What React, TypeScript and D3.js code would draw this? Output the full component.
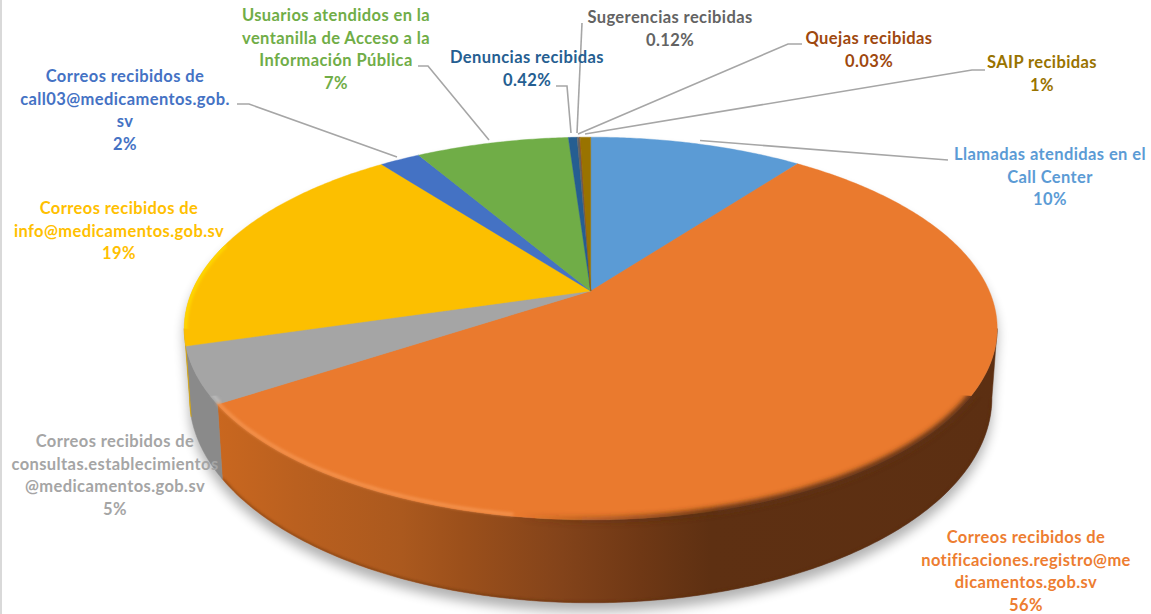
import React from "react";
import * as d3 from "d3";

const categories = [
  "Llamadas atendidas en el Call Center",
  "Correos recibidos de notificaciones.registro@medicamentos.gob.sv",
  "Correos recibidos de consultas.establecimientos@medicamentos.gob.sv",
  "Correos recibidos de info@medicamentos.gob.sv",
  "Correos recibidos de call03@medicamentos.gob.sv",
  "Usuarios atendidos en la ventanilla de Acceso a la Información Pública",
  "Denuncias recibidas",
  "Sugerencias recibidas",
  "Quejas recibidas",
  "SAIP recibidas",
];
const values = [10.25, 55.5, 4.7, 19.2, 1.95, 7.35, 0.42, 0.12, 0.03, 0.5];
const colors = ["#5b9bd5", "#ea7a2e", "#a5a5a5", "#fcbf00", "#4472c4", "#70ad47", "#255e91", "#636363", "#9e480e", "#997300"];
const textColors = ["#5b9bd5", "#ed7d31", "#a5a5a5", "#ffc000", "#4472c4", "#70ad47", "#255e91", "#636363", "#9e480e", "#997300"];
const wallColors = ["#3d6a91", "url(#orangeWall)", "#8a8a8a", "#d9a500", "#2f4f87", "#4c7630", "#193f62", "#434343", "#6b300a", "#684e00"];

const labelLines: string[][] = [
  ["Llamadas atendidas en el", "Call Center", "10%"],
  ["Correos recibidos de", "notificaciones.registro@me", "dicamentos.gob.sv", "56%"],
  ["Correos recibidos de", "consultas.establecimientos", "@medicamentos.gob.sv", "5%"],
  ["Correos recibidos de", "info@medicamentos.gob.sv", "19%"],
  ["Correos recibidos de", "call03@medicamentos.gob.", "sv", "2%"],
  ["Usuarios atendidos en la", "ventanilla de Acceso a la", "Información Pública", "7%"],
  ["Denuncias recibidas", "0.42%"],
  ["Sugerencias recibidas", "0.12%"],
  ["Quejas recibidas", "0.03%"],
  ["SAIP recibidas", "1%"],
];
const labelCenterX = [1050, 1026, 115, 119, 125, 336, 527, 670, 869, 1042];
const labelFirstY = [154, 537, 441, 208, 76, 15, 57, 17, 38, 62];
const leaderPoints: [number, number][][] = [
  [[700, 140.5], [935, 159], [948, 160]],
  [],
  [],
  [],
  [[397, 157], [249, 104], [237, 104]],
  [[489, 140], [428, 66], [418, 66]],
  [[571, 133], [567, 86], [556, 86]],
  [[577, 133], [582, 23]],
  [[578, 134], [788, 44], [802, 44]],
  [[585, 134], [972, 70], [985, 70]],
];

// perspective disc: apex of the pie, axis scales, perspective strength, wall depth
const CX = 590.7, CY = 291, A = 398.6, B = 184, P = 0.196, D = 66.7, TAPER = 0.987;
const LEFT_EXTREME = (258.7 * Math.PI) / 180;
const RIGHT_EXTREME = (101.3 * Math.PI) / 180;
const LINE_H = 22.6;

type Pt = [number, number];
const rimPt = (a: number): Pt => {
  const u = Math.sin(a), v = Math.cos(a), w = 1 + P * v;
  return [CX + (A * u) / w, CY - (B * v) / w];
};
const lowPt = (a: number): Pt => {
  const w = 1 + P * Math.cos(a);
  const [x, y] = rimPt(a);
  return [CX + (x - CX) * TAPER, y + D / w];
};
const samples = (a0: number, a1: number) => {
  const n = Math.max(2, Math.ceil(Math.abs(a1 - a0) / 0.01));
  return d3.range(n + 1).map((i) => a0 + ((a1 - a0) * i) / n);
};
const line = d3.line<Pt>();
const closed = (pts: Pt[]) => line(pts) + "Z";

const arcs = d3.pie<number>().sort(null)(values);
const wallRange = (s: number, e: number): [number, number] | null => {
  const a0 = Math.max(s, RIGHT_EXTREME), a1 = Math.min(e, LEFT_EXTREME);
  return a1 > a0 ? [a0, a1] : null;
};
const frontAngles = samples(RIGHT_EXTREME, LEFT_EXTREME);
const shadowPath = closed([
  ...frontAngles.map(lowPt),
  ...samples(LEFT_EXTREME, Math.PI * 2 + RIGHT_EXTREME).map(rimPt),
]);
const discAndWall = closed([
  ...samples(LEFT_EXTREME, Math.PI * 2 + RIGHT_EXTREME).map(rimPt),
  ...[...frontAngles].reverse().map(lowPt),
]);

export default function App() {
  const orange = arcs[1];
  const gray = arcs[2];
  const yellow = arcs[3];
  const rimLeft = samples(Math.PI * 1.05, orange.endAngle).map(rimPt);
  const rimRight = samples(RIGHT_EXTREME - 0.1, Math.PI * 1.1).map(rimPt);
  const grayRim = samples(gray.startAngle, gray.endAngle).map(rimPt);
  const yellowRim = samples(yellow.startAngle, yellow.startAngle + 0.55).map(rimPt);
  const lowRing = samples(RIGHT_EXTREME, orange.endAngle).map(lowPt);
  return (
    <svg width={1151} height={614} style={{ position: "absolute", left: 0, top: 0, background: "#fff", fontFamily: "Lato, sans-serif" }}>
      <defs>
        <linearGradient id="orangeWall" gradientUnits="userSpaceOnUse" x1={218} x2={1000} y1={0} y2={0}>
          <stop offset="0" stopColor="#c9671f" />
          <stop offset="0.1" stopColor="#ba601f" />
          <stop offset="0.235" stopColor="#ab591e" />
          <stop offset="0.31" stopColor="#9c501b" />
          <stop offset="0.44" stopColor="#83431a" />
          <stop offset="0.54" stopColor="#6f3815" />
          <stop offset="0.63" stopColor="#5e3012" />
          <stop offset="1" stopColor="#5c2f12" />
        </linearGradient>
        <linearGradient id="bevelLeft" gradientUnits="userSpaceOnUse" x1={218} x2={640} y1={0} y2={0}>
          <stop offset="0" stopColor="#f59450" />
          <stop offset="0.7" stopColor="#f59450" />
          <stop offset="1" stopColor="#f59450" stopOpacity={0} />
        </linearGradient>
        <linearGradient id="bevelRight" gradientUnits="userSpaceOnUse" x1={520} x2={720} y1={0} y2={0}>
          <stop offset="0" stopColor="#5e3012" stopOpacity={0} />
          <stop offset="1" stopColor="#5e3012" />
        </linearGradient>
        <linearGradient id="bevelFade" gradientUnits="userSpaceOnUse" x1={0} x2={0} y1={328} y2={358}>
          <stop offset="0" stopColor="#000" />
          <stop offset="1" stopColor="#fff" />
        </linearGradient>
        <mask id="fadeMask" maskUnits="userSpaceOnUse" x={0} y={0} width={1151} height={614}>
          <rect x={0} y={0} width={1151} height={614} fill="url(#bevelFade)" />
        </mask>
        <filter id="blurShadow" x="-10%" y="-10%" width="120%" height="125%">
          <feGaussianBlur stdDeviation={6} />
        </filter>
        <filter id="blurBevel" x="-5%" y="-10%" width="110%" height="120%">
          <feGaussianBlur stdDeviation={1.6} />
        </filter>
        <filter id="blurDark" x="-5%" y="-10%" width="110%" height="120%">
          <feGaussianBlur stdDeviation={2.6} />
        </filter>
        <clipPath id="discClip">
          <path d={discAndWall} />
        </clipPath>
      </defs>

      <rect x={0} y={0} width={2} height={614} fill="#d9d9d9" />

      <path d={shadowPath} transform="translate(0,9)" fill="#000" opacity={0.3} filter="url(#blurShadow)" />

      {arcs.map((d, i) => {
        const r = wallRange(d.startAngle, d.endAngle);
        if (!r) return null;
        const as = samples(r[0], r[1]);
        return <path key={"w" + i} d={closed([...as.map(rimPt), ...[...as].reverse().map(lowPt)])} fill={wallColors[i]} stroke={wallColors[i]} strokeWidth={0.5} />;
      })}

      {arcs.map((d, i) => (
        <path
          key={"s" + i}
          d={closed([[CX, CY], ...samples(d.startAngle, d.endAngle).map(rimPt)])}
          fill={colors[i]}
          stroke={colors[i]}
          strokeWidth={0.4}
        />
      ))}

      <g clipPath="url(#discClip)">
        <path d={line(lowRing)!} fill="none" stroke="#5a2c10" strokeOpacity={0.7} strokeWidth={2} filter="url(#blurBevel)" />
        <g mask="url(#fadeMask)">
          <path d={line(rimRight)!} fill="none" stroke="url(#bevelRight)" strokeWidth={7} filter="url(#blurDark)" />
        </g>
        <path d={line(rimLeft)!} fill="none" stroke="url(#bevelLeft)" strokeWidth={3} filter="url(#blurBevel)" transform="translate(0,-2)" />
        <path d={line(grayRim)!} fill="none" stroke="#bdbdbd" strokeWidth={3} filter="url(#blurBevel)" transform="translate(2.5,-1.5)" />
        <path d={line(yellowRim)!} fill="none" stroke="#ffd800" strokeWidth={4} filter="url(#blurBevel)" transform="translate(1,0)" />
      </g>

      {leaderPoints.map((pts, i) =>
        pts.length ? <path key={"l" + i} d={line(pts)!} fill="none" stroke="#a6a6a6" strokeWidth={1.6} /> : null
      )}

      {categories.map((c, i) => (
        <text
          key={c}
          x={labelCenterX[i]}
          y={labelFirstY[i]}
          fill={textColors[i]}
          fontSize={16.5}
          fontWeight={700}
          letterSpacing={0.4}
          textAnchor="middle"
        >
          {labelLines[i].map((t, j) => (
            <tspan key={j} x={labelCenterX[i]} y={labelFirstY[i] + j * LINE_H} dominantBaseline="central">
              {t}
            </tspan>
          ))}
        </text>
      ))}
    </svg>
  );
}
